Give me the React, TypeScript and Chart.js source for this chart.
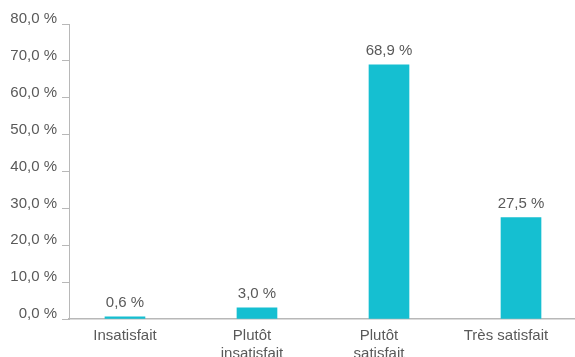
import React, { useEffect, useRef } from "react";
import { Chart, registerables } from "chart.js";

Chart.register(...registerables);

const categories: (string | string[])[] = [
  "Insatisfait",
  ["Plutôt", "insatisfait"],
  ["Plutôt", "satisfait"],
  "Très satisfait",
];
const values: number[] = [0.6, 3.0, 68.9, 27.5];
const yTicks: number[] = [0, 10, 20, 30, 40, 50, 60, 70, 80];
// category labels in the source sit on a slightly tighter pitch than the bars
const labelPitch = 0.962;

const fmt = (v: number) => v.toFixed(1).replace(".", ",") + " %";

const FONT = "'Liberation Sans', Arial, sans-serif";
const TEXT = "#595959";
const AXIS = "#b8b8b8";
const BAR = "#15bfd1";

const labelPlugin = {
  id: "valueLabels",
  afterDatasetsDraw(chart: any) {
    const ctx = chart.ctx;
    const meta = chart.getDatasetMeta(0);
    ctx.save();
    ctx.font = `15px ${FONT}`;
    ctx.fillStyle = TEXT;
    ctx.textAlign = "center";
    ctx.textBaseline = "alphabetic";
    meta.data.forEach((bar: any, i: number) => {
      ctx.fillText(fmt(values[i]), bar.x, bar.y - 10);
    });
    ctx.restore();
  },
};

export default function App() {
  const ref = useRef<HTMLCanvasElement | null>(null);

  useEffect(() => {
    if (!ref.current) return;
    const chart = new Chart(ref.current, {
      type: "bar",
      data: {
        datasets: [
          {
            data: values.map((v, i) => ({ x: i, y: v })),
            backgroundColor: BAR,
            barThickness: 40,
          },
        ],
      },
      plugins: [labelPlugin],
      options: {
        animation: false,
        responsive: false,
        maintainAspectRatio: false,
        layout: { padding: { top: 24, right: 0, left: 0, bottom: 0 } },
        plugins: { legend: { display: false }, tooltip: { enabled: false } },
        scales: {
          x: {
            type: "linear",
            offset: false,
            min: -0.424,
            max: 3.409,
            grid: { drawOnChartArea: false, drawTicks: false, offset: false },
            border: { display: true, color: AXIS, width: 1.5 },
            afterBuildTicks: (axis: any) => {
              axis.ticks = categories.map((_, i) => ({ value: i * labelPitch }));
            },
            afterFit: (axis: any) => {
              axis.height = 38;
            },
            ticks: {
              autoSkip: false,
              maxRotation: 0,
              padding: 8,
              color: TEXT,
              font: { family: FONT, size: 15, lineHeight: 1.2 },
              callback: (_v: any, i: number) => categories[i] as any,
            },
          },
          y: {
            min: 0,
            max: 80,
            afterBuildTicks: (axis: any) => {
              axis.ticks = yTicks.map((v) => ({ value: v }));
            },
            afterFit: (axis: any) => {
              axis.width = 69;
            },
            grid: {
              drawOnChartArea: false,
              drawTicks: true,
              tickLength: 7,
              color: AXIS,
              lineWidth: 1,
            },
            border: { display: true, color: AXIS, width: 1 },
            ticks: {
              padding: 5,
              labelOffset: -5,
              color: TEXT,
              font: { family: FONT, size: 15 },
              callback: (v: any) => fmt(Number(v)),
            },
          },
        },
      },
    });
    return () => chart.destroy();
  }, []);

  return (
    <div style={{ position: "fixed", left: 0, top: 0, width: 575, height: 357, background: "#fff" }}>
      <canvas ref={ref} width={575} height={357} style={{ width: 575, height: 357 }} />
    </div>
  );
}
